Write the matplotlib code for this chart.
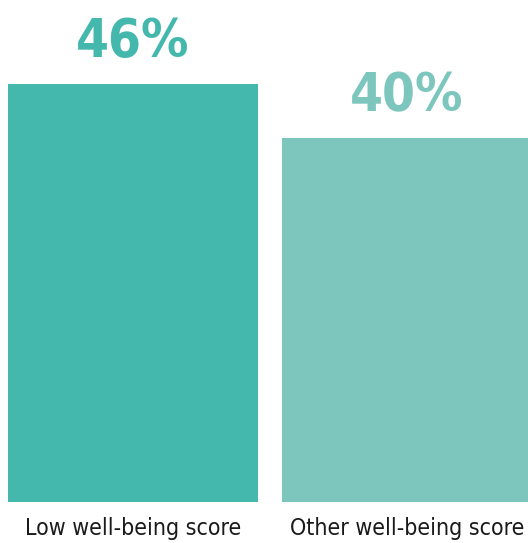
import matplotlib
matplotlib.use('Agg')
from matplotlib import pyplot as plt

# well-being share by group
groups = ['Low well-being score', 'Other well-being score']
values = [46, 40]
colors = ['#45b8ad', '#7cc6be']

plt.rcParams['font.family'] = ['DejaVu Sans']
plt.rcParams['font.stretch'] = 'condensed'

fig = plt.figure(figsize=(5.28, 5.43), dpi=100)
ax = fig.add_axes([0, 41 / 543, 1, 502 / 543])

x = range(len(values))
bars = ax.bar(x, values, width=0.912, color=colors)

for i, v in enumerate(values):
    ax.annotate(f'{v}%', (i, v), xytext=(0, 27), textcoords='offset pixels',
                ha='center', va='baseline', fontsize=38, fontweight='bold',
                color=colors[i])
    ax.annotate(groups[i], (i, 0), xytext=(0, -15), textcoords='offset pixels',
                ha='center', va='top', fontsize=16.6, color='#1a1a1a',
                annotation_clip=False)

ax.set_xlim(-0.485, 1.4416)
ax.set_ylim(0, 55.2)
ax.axis('off')

fig.savefig('out.png', dpi=100)
